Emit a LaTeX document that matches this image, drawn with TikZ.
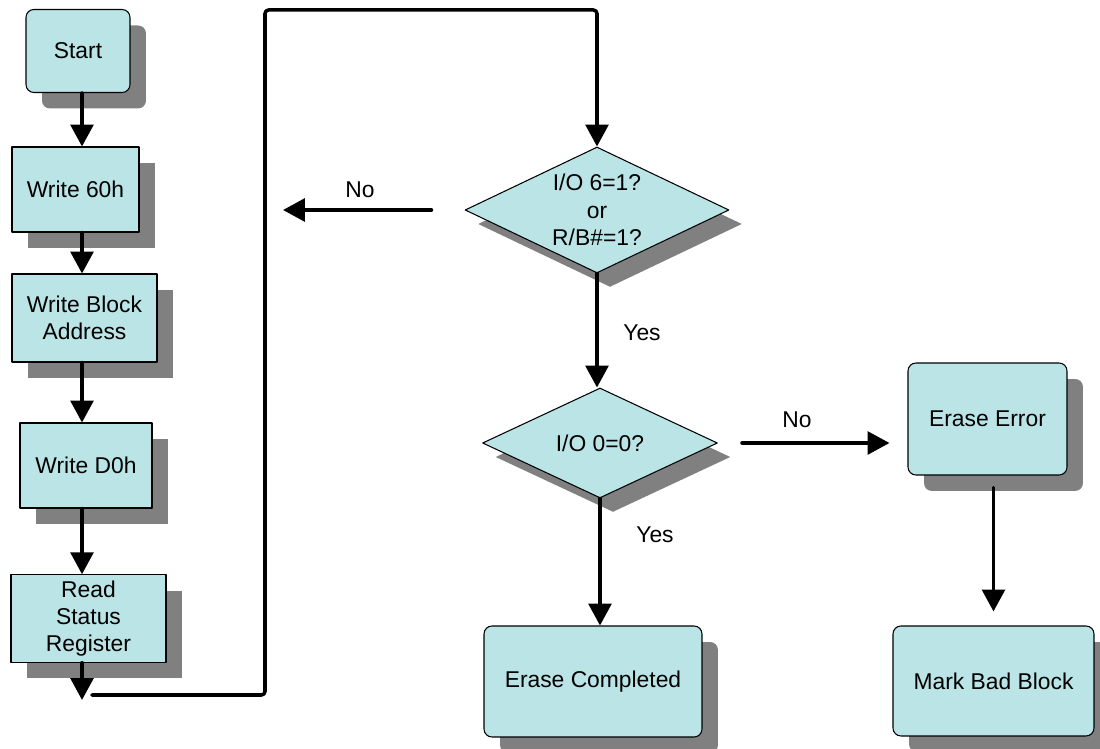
\documentclass[tikz,border=0pt]{standalone}
\usepackage{fontspec}
\setmainfont{Liberation Sans}
\usetikzlibrary{arrows.meta,shapes.geometric,shadows}
\definecolor{boxfill}{RGB}{186,228,230}
\definecolor{shade}{RGB}{128,128,128}

\begin{document}
\begin{tikzpicture}[x=0.02cm,y=-0.02cm,line cap=round,line join=round,
    >={Triangle[width=13pt,length=12.5pt]},
    base/.style={draw=black,line width=0.6pt,fill=boxfill,align=center,font=\fontsize{13}{15.5}\selectfont},
    proc/.style={base,drop shadow={shadow xshift=0.32cm,shadow yshift=-0.32cm,fill=shade,opacity=1}},
    term/.style={proc,rounded corners=4.5pt},
    test/.style={base,diamond,aspect=2.1,inner sep=0pt,drop shadow={shadow xshift=0.26cm,shadow yshift=-0.28cm,fill=shade,opacity=1}},
    flow/.style={line width=2pt,->},
    lbl/.style={font=\fontsize{13}{15.5}\selectfont}]
  \useasboundingbox (0,0) rectangle (1100,749);
  % left column
  \node[term,minimum width=2.08cm,minimum height=1.66cm] (start) at (78,51) {Start};
  \node[proc,minimum width=2.54cm,minimum height=1.70cm] (w60) at (75.5,189.5) {Write 60h};
  \node[proc,minimum width=2.90cm,minimum height=1.76cm] (wba) at (84.5,318) {Write Block\\Address};
  \node[proc,minimum width=2.64cm,minimum height=1.70cm] (wd0) at (86,465.5) {Write D0h};
  \node[proc,minimum width=3.10cm,minimum height=1.74cm] (rsr) at (88.5,618.5) {Read\\Status\\Register};
  % tests and results
  \node[test,minimum width=5.28cm,minimum height=2.52cm] (dec1) at (597,210) {I/O 6=1?\\or\\R/B\#=1?};
  \node[test,minimum width=4.70cm,minimum height=2.20cm] (dec2) at (600,443) {I/O 0=0?};
  \node[term,minimum width=4.36cm,minimum height=2.22cm] (done) at (593,681.5) {Erase Completed};
  \node[term,minimum width=3.18cm,minimum height=2.24cm] (err) at (987.5,419) {Erase Error};
  \node[term,minimum width=4.02cm,minimum height=2.20cm] (bad) at (993.5,681) {Mark Bad Block};
  \coordinate (col) at (82,0);
  \coordinate (tip) at (82,700);
  \coordinate (ret) at (92,695);
  \coordinate (lp) at (265,10);
  \coordinate (nol) at (283,210);
  \foreach \a/\b in {start/w60,w60/wba,wba/wd0,wd0/rsr}
    \draw[flow] (\a.south -| col) -- (\b.north -| col);
  \draw[flow] (rsr.south -| col) -- (tip);
  \draw[flow,rounded corners=2pt] (ret) -| (lp) -| (dec1.north);
  \draw[flow] ([xshift=-0.66cm]dec1.west) -- (nol);
  \draw[flow] (dec1.south) -- (dec1.south |- dec2.north);
  \draw[flow,shorten <=0.48cm,shorten >=0.36cm] (dec2.east) -- (dec2.east -| err.west);
  \draw[flow] (dec2.south) -- (dec2.south |- done.north);
  \draw[flow,shorten <=0.24cm,shorten >=0.28cm] (err.south -| bad.north) -- (bad.north);
  \node[lbl] (no1) at (360,190) {No};
  \node[lbl] (yes1) at (642,333) {Yes};
  \node[lbl] (no2) at (797,420) {No};
  \node[lbl] (yes2) at (655,535) {Yes};
\end{tikzpicture}
\end{document}
